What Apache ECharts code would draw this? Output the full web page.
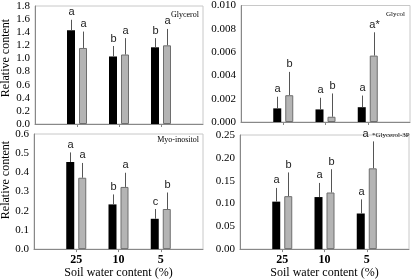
<!DOCTYPE html>
<html lang="en">
<head>
  <meta charset="UTF-8">
  <script src="https://cdn.jsdelivr.net/npm/echarts@6/dist/echarts.min.js"></script>
  <style>
    html, body { margin: 0; padding: 0; background: #fff; }
    #container { width: 412px; height: 280px; }
  </style>
</head>
<body>
  <div id="container"></div>
  <script>
    // soil water content (%), padded with empty slots at both ends
    var categories = ['', '25', '10', '5', ''];

    // Glycerol
    var glycerolBlack = [1.43, 1.03, 1.17];
    var glycerolBlackSd = [0.16, 0.16, 0.14];
    var glycerolBlackSig = ['a', 'b', 'b'];
    var glycerolGray = [1.16, 1.06, 1.20];
    var glycerolGraySd = [0.25, 0.25, 0.25];
    var glycerolGraySig = ['a', 'a', 'a'];
    var glycerolTicks = [0, 1.8, 0.2];

    // Glycol
    var glycolBlack = [0.00117, 0.00108, 0.00127];
    var glycolBlackSd = [0.0010, 0.0010, 0.0010];
    var glycolBlackSig = ['a', 'a', 'a'];
    var glycolGray = [0.0023, 0.00045, 0.0057];
    var glycolGraySd = [0.0020, 0.0020, 0.0020];
    var glycolGraySig = ['b', 'b', 'a*'];
    var glycolTicks = [0, 0.010, 0.002];

    // Myo-inositol
    var myoBlack = [0.454, 0.233, 0.158];
    var myoBlackSd = [0.050, 0.052, 0.051];
    var myoBlackSig = ['a', 'b', 'c'];
    var myoGray = [0.372, 0.324, 0.209];
    var myoGraySd = [0.077, 0.074, 0.086];
    var myoGraySig = ['a', 'a', 'b'];
    var myoTicks = [0, 0.6, 0.1];

    // Glycerol-3P (the "*" of the last letter runs into the panel title)
    var g3pBlack = [0.104, 0.114, 0.078];
    var g3pBlackSd = [0.030, 0.031, 0.031];
    var g3pBlackSig = ['a', 'a', 'a'];
    var g3pGray = [0.116, 0.124, 0.177];
    var g3pGraySd = [0.052, 0.051, 0.059];
    var g3pGraySig = ['b', 'b', 'a'];
    var g3pTicks = [0, 0.25, 0.05];

    var panels = [
      { grid: { left: 35, right: 209, top: 6, height: 118 }, bottom: false, digits: 1,
        black: glycerolBlack, blackSd: glycerolBlackSd, blackSig: glycerolBlackSig,
        gray: glycerolGray, graySd: glycerolGraySd, graySig: glycerolGraySig, ticks: glycerolTicks },
      { grid: { left: 241, right: 2, top: 5, height: 117 }, bottom: false, digits: 3,
        black: glycolBlack, blackSd: glycolBlackSd, blackSig: glycolBlackSig,
        gray: glycolGray, graySd: glycolGraySd, graySig: glycolGraySig, ticks: glycolTicks },
      { grid: { left: 34, right: 209, top: 134, height: 117 }, bottom: true, digits: 1,
        black: myoBlack, blackSd: myoBlackSd, blackSig: myoBlackSig,
        gray: myoGray, graySd: myoGraySd, graySig: myoGraySig, ticks: myoTicks },
      { grid: { left: 240, right: 2, top: 135, height: 116 }, bottom: true, digits: 2, tagLast: true,
        black: g3pBlack, blackSd: g3pBlackSd, blackSig: g3pBlackSig,
        gray: g3pGray, graySd: g3pGraySd, graySig: g3pGraySig, ticks: g3pTicks }
    ];

    var serif = '"Times New Roman", "Liberation Serif", serif';

    // error bar (upper whisker only) + significance letter
    function errorItem(letters, dx, tagLast) {
      return function (params, api) {
        var base = api.coord([api.value(0), api.value(1)]);
        var top = api.coord([api.value(0), api.value(2)]);
        var x = Math.round(base[0] + dx) + 0.5;
        // letter that sits just left of the panel title
        var shifted = tagLast && params.dataIndex === letters.length - 1;
        return {
          type: 'group',
          children: [
            {
              type: 'line',
              shape: { x1: x, y1: base[1], x2: x, y2: top[1] },
              style: { stroke: '#555', lineWidth: 1 }
            },
            {
              type: 'text',
              x: shifted ? x - 5 : x,
              y: top[1] - 2,
              style: {
                text: letters[params.dataIndex],
                fill: '#222',
                font: '11px Arial, "Liberation Sans", sans-serif',
                align: shifted ? 'right' : 'center',
                verticalAlign: 'bottom'
              }
            }
          ]
        };
      };
    }

    function padded(values) {
      return ['-'].concat(values, ['-']);
    }

    function whiskers(values, sd) {
      var res = [];
      for (var i = 0; i < values.length; i++) {
        res.push([i + 1, values[i], values[i] + sd[i]]);
      }
      return res;
    }

    var grids = [], xAxes = [], yAxes = [], series = [];
    panels.forEach(function (p, i) {
      grids.push(Object.assign({ show: true, borderColor: '#c8c8c8', borderWidth: 1 }, p.grid));
      xAxes.push({
        gridIndex: i,
        type: 'category',
        data: categories,
        boundaryGap: false,
        axisLine: { lineStyle: { color: '#888', width: 1 } },
        axisTick: {
          show: true, length: 3,
          interval: function (idx, val) { return val !== ''; },
          lineStyle: { color: '#888' }
        },
        axisLabel: {
          show: p.bottom, interval: 0, margin: 5,
          color: '#000', fontFamily: serif, fontSize: 12, fontWeight: 'bold'
        },
        name: p.bottom ? 'Soil water content (%)' : '',
        nameLocation: 'middle',
        nameGap: 14,
        nameTextStyle: { color: '#000', fontFamily: serif, fontSize: 12 }
      });
      yAxes.push({
        gridIndex: i,
        type: 'value',
        min: p.ticks[0],
        max: p.ticks[1],
        interval: p.ticks[2],
        splitLine: { show: false },
        axisLine: { show: true, lineStyle: { color: '#888', width: 1 } },
        axisTick: { show: false },
        axisLabel: {
          margin: 5, color: '#000', fontFamily: serif, fontSize: 11,
          formatter: (function (d) { return function (v) { return v.toFixed(d); }; })(p.digits)
        }
      });
      series.push({
        type: 'bar', xAxisIndex: i, yAxisIndex: i,
        data: padded(p.black), barWidth: 8, barGap: '50%',
        itemStyle: { color: '#000' }, silent: true
      });
      series.push({
        type: 'bar', xAxisIndex: i, yAxisIndex: i,
        data: padded(p.gray), barWidth: 8, barGap: '50%',
        itemStyle: { color: '#b4b4b4', borderColor: '#6e6e6e', borderWidth: 1 }, silent: true
      });
      series.push({
        type: 'custom', xAxisIndex: i, yAxisIndex: i, z: 5, clip: false, silent: true,
        data: whiskers(p.black, p.blackSd), renderItem: errorItem(p.blackSig, -6, false)
      });
      series.push({
        type: 'custom', xAxisIndex: i, yAxisIndex: i, z: 5, clip: false, silent: true,
        data: whiskers(p.gray, p.graySd), renderItem: errorItem(p.graySig, 6, p.tagLast)
      });
    });

    function label(text, x, y, size, align, rot) {
      return {
        type: 'text', x: x, y: y, rotation: rot || 0,
        style: { text: text, font: size + 'px ' + serif, fill: '#000', align: align, verticalAlign: 'middle' }
      };
    }

    var myChart = echarts.init(document.getElementById('container'));
    myChart.setOption({
      backgroundColor: '#fff',
      animation: false,
      grid: grids,
      xAxis: xAxes,
      yAxis: yAxes,
      series: series,
      graphic: [
        label('Glycerol', 199, 15, 8, 'right'),
        label('Glycol', 405, 14, 7, 'right'),
        label('Myo-inositol', 199, 140, 8, 'right'),
        label('*Glycerol-3P', 372, 135, 7, 'left'),
        label('Relative content', 6, 58, 12, 'center', Math.PI / 2),
        label('Relative content', 6, 180, 12, 'center', Math.PI / 2)
      ]
    });
  </script>
</body>
</html>
